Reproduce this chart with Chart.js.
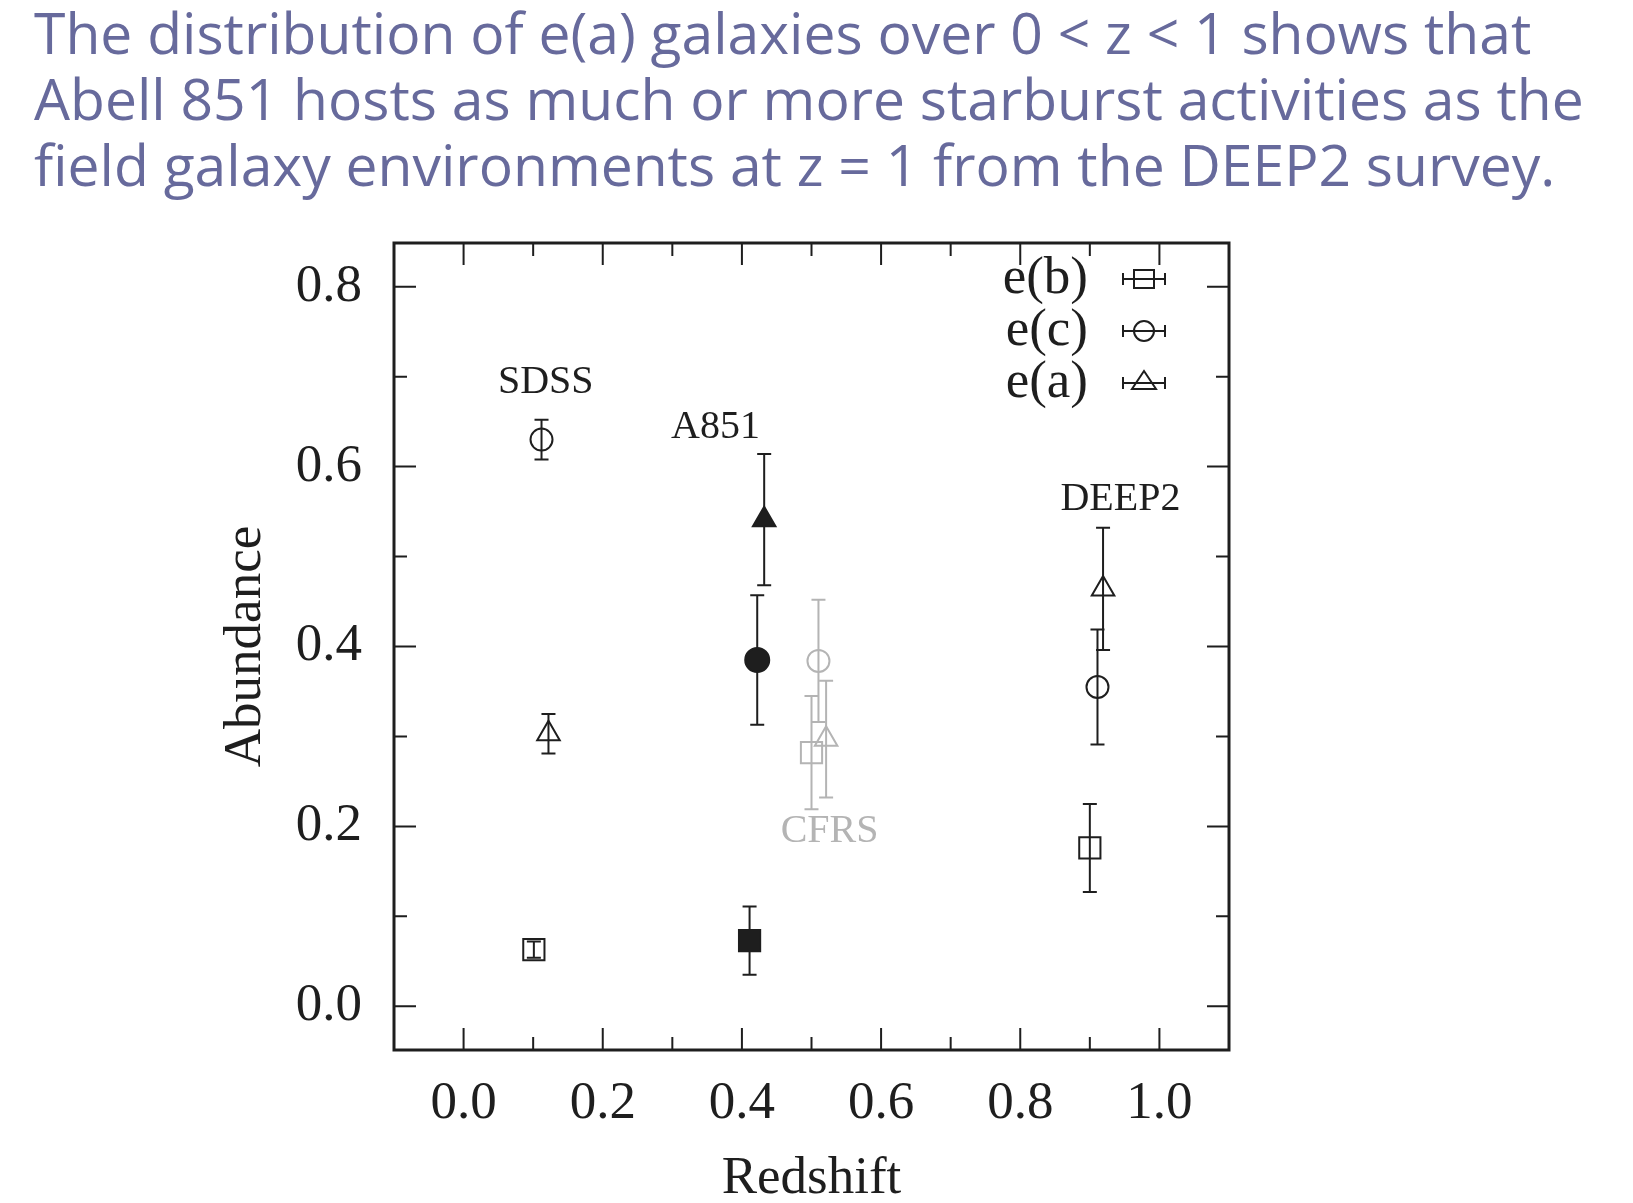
<!DOCTYPE html>
<html lang="en">
<head>
  <meta charset="UTF-8" />
  <title>e(a) galaxies vs redshift</title>
  <script src="https://cdn.jsdelivr.net/npm/chart.js"></script>
  <style>
    body { margin: 0; background: white; width: 1633px; height: 1203px; overflow: hidden; position: relative; }
    #headline {
      position: absolute; left: 34px; top: -1px; margin: 0;
      font-family: "Open Sans", sans-serif; font-size: 57px; line-height: 66px;
      color: #676a9c; font-weight: normal; white-space: nowrap;
    }
    #chart { position: absolute; left: 0; top: 0; }
  </style>
</head>
<body>
  <div id="headline">The distribution of e(a) galaxies over 0 &lt; z &lt; 1 shows that<br>Abell 851 hosts as much or more starburst activities as the<br>field galaxy environments at z = 1 from the DEEP2 survey.</div>
  <canvas id="chart" width="1633" height="1203"></canvas>

  <script>
    // surveys, in the order of every series below
    const surveys = ['SDSS', 'A851', 'CFRS', 'DEEP2'];

    // e(b) : squares
    const ebZ   = [0.101, 0.411, 0.500, 0.900];
    const ebVal = [0.063, 0.073, 0.282, 0.176];
    const ebErr = [0.009, 0.038, 0.063, 0.049];
    // e(c) : circles
    const ecZ   = [0.112, 0.422, 0.510, 0.911];
    const ecVal = [0.630, 0.385, 0.384, 0.355];
    const ecErr = [0.022, 0.072, 0.068, 0.064];
    // e(a) : triangles
    const eaZ   = [0.122, 0.432, 0.521, 0.919];
    const eaVal = [0.303, 0.541, 0.297, 0.464];
    const eaErr = [0.022, 0.073, 0.065, 0.068];

    // where each survey name sits (data units)
    const labelZ   = [0.118, 0.362, 0.526, 0.944];
    const labelVal = [0.693, 0.643, 0.194, 0.563];

    const xTicks = [0.0, 0.2, 0.4, 0.6, 0.8, 1.0];
    const xMinor = [0.1, 0.3, 0.5, 0.7, 0.9];
    const yTicks = [0.0, 0.2, 0.4, 0.6, 0.8];
    const yMinor = [0.1, 0.3, 0.5, 0.7];

    const INK = '#1e1e1e';
    const GREY = '#b4b4b4';
    const SERIF = '"Liberation Serif", "DejaVu Serif", serif';

    // A851 filled, CFRS grey, the rest open black
    const edge = i => surveys[i] === 'CFRS' ? GREY : INK;
    const fill = i => surveys[i] === 'A851' ? INK : 'rgba(0,0,0,0)';

    function series(label, zs, vals, errs, style, radius) {
      return {
        label: label,
        data: zs.map((z, i) => ({ x: z, y: vals[i], err: errs[i] })),
        pointStyle: style,
        pointRadius: surveys.map((s, i) => s === 'A851' && style === 'circle' ? radius + 1 : radius),
        pointBorderWidth: 2,
        pointBorderColor: surveys.map((s, i) => edge(i)),
        pointBackgroundColor: surveys.map((s, i) => fill(i)),
        showLine: false
      };
    }

    // vertical error bars, drawn under the markers
    const errorBars = {
      id: 'errorBars',
      beforeDatasetsDraw(chart) {
        const { ctx, scales: { x, y } } = chart;
        ctx.save();
        ctx.lineWidth = 2;
        chart.data.datasets.forEach(ds => {
          ds.data.forEach((p, i) => {
            const px = x.getPixelForValue(p.x);
            const top = y.getPixelForValue(p.y + p.err);
            const bot = y.getPixelForValue(p.y - p.err);
            ctx.strokeStyle = edge(i);
            ctx.beginPath();
            ctx.moveTo(px, top); ctx.lineTo(px, bot);
            ctx.moveTo(px - 7, top); ctx.lineTo(px + 7, top);
            ctx.moveTo(px - 7, bot); ctx.lineTo(px + 7, bot);
            ctx.stroke();
          });
        });
        ctx.restore();
      }
    };

    // box, inward ticks on all four sides, survey names, legend
    const frame = {
      id: 'frame',
      afterDraw(chart) {
        const { ctx, chartArea: a, scales: { x, y } } = chart;
        ctx.save();
        ctx.strokeStyle = INK;
        ctx.lineWidth = 2;
        const tickX = (v, len) => {
          const px = x.getPixelForValue(v);
          ctx.moveTo(px, a.bottom); ctx.lineTo(px, a.bottom - len);
          ctx.moveTo(px, a.top); ctx.lineTo(px, a.top + len);
        };
        const tickY = (v, len) => {
          const py = y.getPixelForValue(v);
          ctx.moveTo(a.left, py); ctx.lineTo(a.left + len, py);
          ctx.moveTo(a.right, py); ctx.lineTo(a.right - len, py);
        };
        ctx.beginPath();
        xTicks.forEach(v => tickX(v, 22));
        xMinor.forEach(v => tickX(v, 13));
        yTicks.forEach(v => tickY(v, 22));
        yMinor.forEach(v => tickY(v, 13));
        ctx.stroke();

        ctx.lineWidth = 3;
        ctx.strokeRect(a.left, a.top, a.right - a.left, a.bottom - a.top);

        // survey names
        ctx.font = '40px ' + SERIF;
        ctx.textAlign = 'center';
        ctx.textBaseline = 'middle';
        surveys.forEach((s, i) => {
          ctx.fillStyle = s === 'CFRS' ? GREY : INK;
          ctx.fillText(s, x.getPixelForValue(labelZ[i]), y.getPixelForValue(labelVal[i]));
        });

        // legend: text then marker with horizontal error bar
        ctx.font = '53px ' + SERIF;
        ctx.textAlign = 'right';
        ctx.fillStyle = INK;
        const symX = a.right - 85;
        chart.data.datasets.forEach((ds, k) => {
          const ly = a.top + 36 + k * 52;
          ctx.fillText(ds.label, a.right - 141, ly);
          ctx.lineWidth = 2;
          ctx.strokeStyle = INK;
          ctx.beginPath();
          ctx.moveTo(symX - 21, ly); ctx.lineTo(symX + 21, ly);
          ctx.moveTo(symX - 21, ly - 6); ctx.lineTo(symX - 21, ly + 6);
          ctx.moveTo(symX + 21, ly - 6); ctx.lineTo(symX + 21, ly + 6);
          ctx.stroke();
          ctx.beginPath();
          if (ds.pointStyle === 'rect') {
            ctx.rect(symX - 10, ly - 9, 20, 18);
          } else if (ds.pointStyle === 'circle') {
            ctx.arc(symX, ly, 10, 0, Math.PI * 2);
          } else {
            ctx.moveTo(symX, ly - 12); ctx.lineTo(symX + 12, ly + 6); ctx.lineTo(symX - 12, ly + 6); ctx.closePath();
          }
          ctx.stroke();
        });
        ctx.restore();
      }
    };

    new Chart(document.getElementById('chart'), {
      type: 'scatter',
      data: {
        datasets: [
          series('e(b)', ebZ, ebVal, ebErr, 'rect', 15),
          series('e(c)', ecZ, ecVal, ecErr, 'circle', 11),
          series('e(a)', eaZ, eaVal, eaErr, 'triangle', 13)
        ]
      },
      options: {
        responsive: false,
        animation: false,
        layout: { padding: { left: 220, top: 243, right: 404, bottom: 0 } },
        plugins: { legend: { display: false }, tooltip: { enabled: false } },
        scales: {
          x: {
            type: 'linear', min: -0.1, max: 1.1,
            afterBuildTicks: s => { s.ticks = xTicks.map(v => ({ value: v })); },
            afterFit: s => { s.height = 153; },
            grid: { display: false, drawTicks: false },
            border: { display: false },
            ticks: { padding: 22, color: INK, font: { family: SERIF, size: 53 }, callback: v => v.toFixed(1) },
            title: { display: true, text: 'Redshift', color: INK, padding: { top: 0, bottom: -3 }, font: { family: SERIF, size: 53, lineHeight: 1.0 } }
          },
          y: {
            type: 'linear', min: -0.0486, max: 0.8486,
            afterBuildTicks: s => { s.ticks = yTicks.map(v => ({ value: v })); },
            afterFit: s => { s.width = 174; },
            grid: { display: false, drawTicks: false },
            border: { display: false },
            ticks: { padding: 32, color: INK, font: { family: SERIF, size: 53 }, callback: v => v.toFixed(1) },
            title: { display: true, text: 'Abundance', color: INK, padding: 0, font: { family: SERIF, size: 53, lineHeight: 1.0 } }
          }
        }
      },
      plugins: [errorBars, frame]
    });
  </script>
</body>
</html>
